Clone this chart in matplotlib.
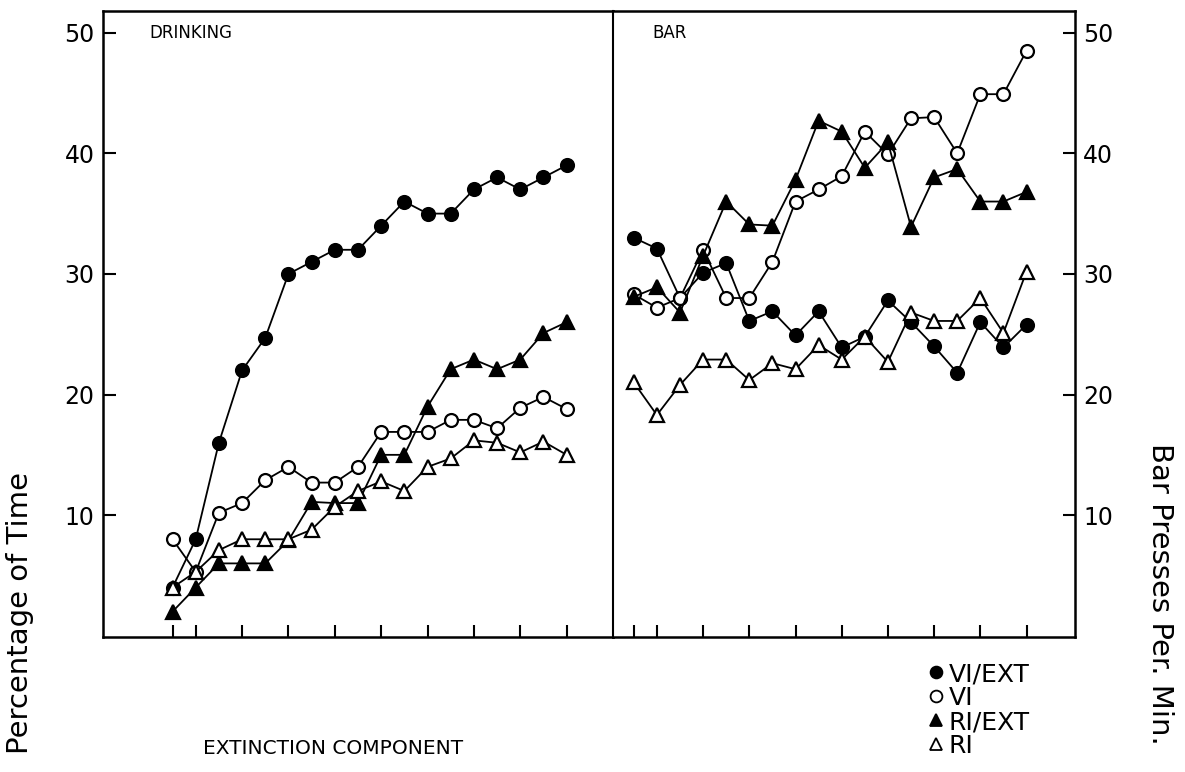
import matplotlib
matplotlib.use("Agg")
import matplotlib.pyplot as plt
from matplotlib.lines import Line2D

sessions = list(range(1, 19))
tick_sessions = [1, 2, 4, 6, 8, 10, 12, 14, 16, 18]
y_ticks = [10, 20, 30, 40, 50]

# drinking: percentage of time
drink_vi_ext = [4, 8, 16, 22, 24.7, 30, 31, 32, 32, 34, 36, 35, 35, 37, 38, 37, 38, 39]
drink_vi = [8, 5.3, 10.2, 11, 12.9, 14, 12.7, 12.7, 14, 16.9, 16.9, 16.9, 17.9, 17.9, 17.2, 18.9, 19.8, 18.8]
drink_ri_ext = [2, 4, 6, 6, 6, 7.9, 11.1, 11, 11, 15, 15, 19, 22.1, 22.9, 22.1, 22.9, 25.1, 26]
drink_ri = [4, 5.3, 7.1, 8, 8, 8, 8.8, 10.7, 12, 12.8, 12, 14, 14.7, 16.2, 16, 15.2, 16.1, 15]

# bar presses per minute
bar_vi_ext = [33, 32.1, 28, 30.1, 30.9, 26.1, 26.9, 24.9, 26.9, 23.9, 24.8, 27.8, 26, 24, 21.8, 26, 23.9, 25.8]
bar_vi = [28.3, 27.2, 28, 32, 28, 28, 31, 36, 37, 38.1, 41.8, 39.9, 42.9, 43, 40, 44.9, 44.9, 48.5]
bar_ri_ext = [28.1, 28.9, 26.8, 31.5, 36, 34.1, 34, 37.8, 42.7, 41.8, 38.8, 40.9, 33.9, 38, 38.7, 36, 36, 36.8]
bar_ri = [21, 18.3, 20.8, 22.9, 22.9, 21.2, 22.6, 22.1, 24.1, 22.9, 24.8, 22.7, 26.8, 26.1, 26.1, 28, 25.1, 30.2]

labels = ["VI/EXT", "VI", "RI/EXT", "RI"]
styles = [("o", "black"), ("o", "white"), ("^", "black"), ("^", "white")]

plt.rcParams["font.family"] = "DejaVu Sans"

fig = plt.figure(figsize=(11.85, 7.72), dpi=100)
ax1 = fig.add_axes([0.0869, 0.1749, 0.4304, 0.8109])
ax2 = fig.add_axes([0.5173, 0.1749, 0.3899, 0.8109])


def draw_panel(ax, series):
    for vals, (m, fc) in zip(series, styles):
        ax.plot(sessions, vals, color="black", lw=1.3, marker=m,
                markersize=10.5 if m == "^" else 9.3, markerfacecolor=fc,
                markeredgecolor="black", markeredgewidth=1.6)
    for s in ax.spines.values():
        s.set_linewidth(1.8)
    ax.set_ylim(-0.1, 51.8)
    ax.set_xticks(tick_sessions)
    ax.set_xticklabels([])
    ax.set_yticks(y_ticks)
    ax.tick_params(axis="x", direction="in", length=9, width=1.5)
    ax.tick_params(axis="y", direction="in", length=9, width=1.5,
                   labelsize=17, pad=6)


draw_panel(ax1, [drink_vi_ext, drink_vi, drink_ri_ext, drink_ri])
ax1.set_xlim(-2, 20)
ax1.text(0.09, 0.965, "DRINKING", transform=ax1.transAxes, fontsize=12, va="center")

draw_panel(ax2, [bar_vi_ext, bar_vi, bar_ri_ext, bar_ri])
ax2.set_xlim(0.1, 20.1)
ax2.spines["left"].set_linewidth(1.5)
ax2.yaxis.tick_right()
ax2.tick_params(axis="y", which="both", left=False, right=True, labelleft=False,
                labelright=True)
ax2.text(0.085, 0.965, "BAR", transform=ax2.transAxes, fontsize=12, va="center")

fig.text(203 / 1185, 1 - 748 / 772, "EXTINCTION COMPONENT", fontsize=14.5, va="center")
fig.text(20 / 1185, 1 - 472 / 772, "Percentage of Time", rotation=90,
         ha="center", va="top", fontsize=21)
fig.text(1160 / 1185, 1 - 443 / 772, "Bar Presses Per. Min.", rotation=-90,
         ha="center", va="top", fontsize=21)

handles = [Line2D([], [], ls="none", marker=m, markerfacecolor=fc,
                  markeredgecolor="black", markeredgewidth=1.3, markersize=8.5)
           for m, fc in styles]
fig.legend(handles, labels, loc="upper left", bbox_to_anchor=(930 / 1185, 1 - 662 / 772),
           frameon=False, fontsize=18, handlelength=0.5, handletextpad=0.25,
           labelspacing=0.0, borderpad=0, borderaxespad=0)

fig.savefig("out.png", dpi=100)
